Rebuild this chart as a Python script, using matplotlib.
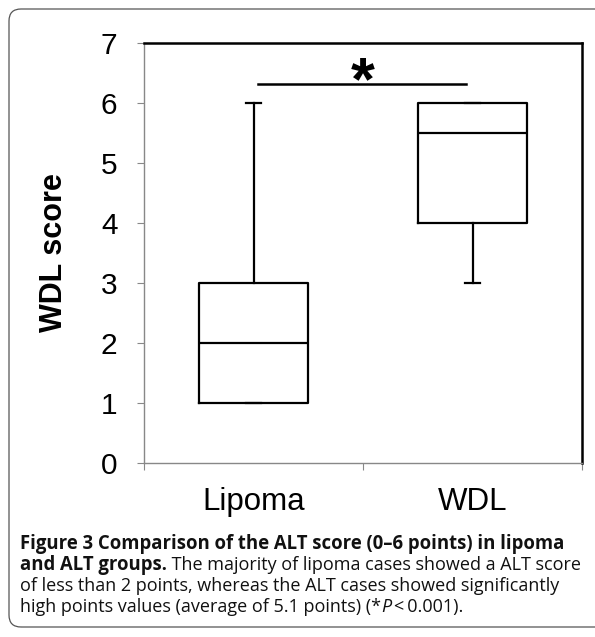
import matplotlib
matplotlib.use('Agg')
import matplotlib.pyplot as plt
import matplotlib.transforms as mtransforms
from matplotlib.patches import FancyBboxPatch

# data
groups = ['Lipoma', 'WDL']
whis_lo = [1, 3]
q1 = [1, 4]
med = [2, 5.5]
q3 = [3, 6]
whis_hi = [6, 6]
sig_y = 6.32
yticks = [0, 1, 2, 3, 4, 5, 6, 7]

caption = [
    [('Figure 3 Comparison of the ALT score (0\u20136 points) in lipoma', 'bold', 'normal')],
    [('and ALT groups.', 'bold', 'normal'),
     (' The majority of lipoma cases showed a ALT score', 'normal', 'normal')],
    [('of less than 2 points, whereas the ALT cases showed significantly', 'normal', 'normal')],
    [('high points values (average of 5.1 points) (*', 'normal', 'normal'),
     ('P', 'normal', 'italic'),
     ('\u2009<\u20090.001).', 'normal', 'normal')],
]

W, H = 595, 637
fig = plt.figure(figsize=(W/100, H/100), dpi=100)
ax = fig.add_axes([144/W, 1-463/H, (582-144)/W, (463-43)/H])

stats = []
for i in range(len(groups)):
    stats.append(dict(med=med[i], q1=q1[i], q3=q3[i], whislo=whis_lo[i], whishi=whis_hi[i], fliers=[]))

lp = dict(color='black', linewidth=1.6)
ax.bxp(stats, positions=[1, 2], widths=0.5, capwidths=0.065, showfliers=False,
       boxprops=lp, medianprops=lp, whiskerprops=lp, capprops=lp)

ax.set_xlim(0.5, 2.5)
ax.set_ylim(0, 7)
ax.set_yticks(yticks)
ax.set_yticklabels([str(t) for t in yticks], family='Liberation Sans', fontsize=21.5)
ax.set_xticks([0.5, 1.5, 2.5])
ax.set_xticklabels(['', '', ''])
ax.set_xticks([1, 2], minor=True)
ax.set_xticklabels(groups, minor=True, family='Liberation Sans', fontsize=22.5)
ax.tick_params(axis='x', which='minor', length=0, pad=17)
ax.tick_params(axis='x', which='major', length=5, color='#888888', width=0.8)
ax.tick_params(axis='y', length=5, color='#888888', width=0.8, pad=14)

for s in ['left', 'bottom']:
    ax.spines[s].set_color('#888888')
    ax.spines[s].set_linewidth(1.0)
for s in ['top', 'right']:
    ax.spines[s].set_color('black')
    ax.spines[s].set_linewidth(1.8)

ax.set_ylabel('WDL score', family='Liberation Sans', fontweight='bold', fontsize=22, labelpad=23)

# significance bar
ax.plot([1.02, 1.97], [sig_y, sig_y], color='black', linewidth=1.8, clip_on=False)
ax.text(1.5, sig_y, '*', ha='center', va='center', fontsize=44, fontweight='bold',
        family='Liberation Sans')

# rounded frame, right side runs off the picture
frame = FancyBboxPatch((9, H-627), 640, 618, boxstyle='round,pad=0,rounding_size=12',
                       transform=mtransforms.IdentityTransform(), facecolor='none',
                       edgecolor='#555555', linewidth=0.9)
fig.patches.append(frame)

# caption with mixed fonts
fig.canvas.draw()
renderer = fig.canvas.get_renderer()
cap_font = 'Open Sans'

def width_at(txt, wt, size):
    p = fig.text(0, 0, txt, family=cap_font, fontweight=wt, fontsize=size)
    w = p.get_window_extent(renderer).width
    p.remove()
    return w

bold_size = 10 * (565 - 20) / width_at(caption[0][0][0], 'bold', 10)
reg_size = 10 * (560 - 20) / width_at(caption[2][0][0], 'normal', 10)

baselines = [549, 570, 591, 612]
for line, yb in zip(caption, baselines):
    x = 20
    for txt, wt, st in line:
        sz = bold_size if wt == 'bold' else reg_size
        t = fig.text(x/W, 1-yb/H, txt, family=cap_font, fontweight=wt, fontstyle=st,
                     fontsize=sz, va='baseline', ha='left', color='#111111')
        x += t.get_window_extent(renderer).width

fig.savefig('out.png', dpi=100)
